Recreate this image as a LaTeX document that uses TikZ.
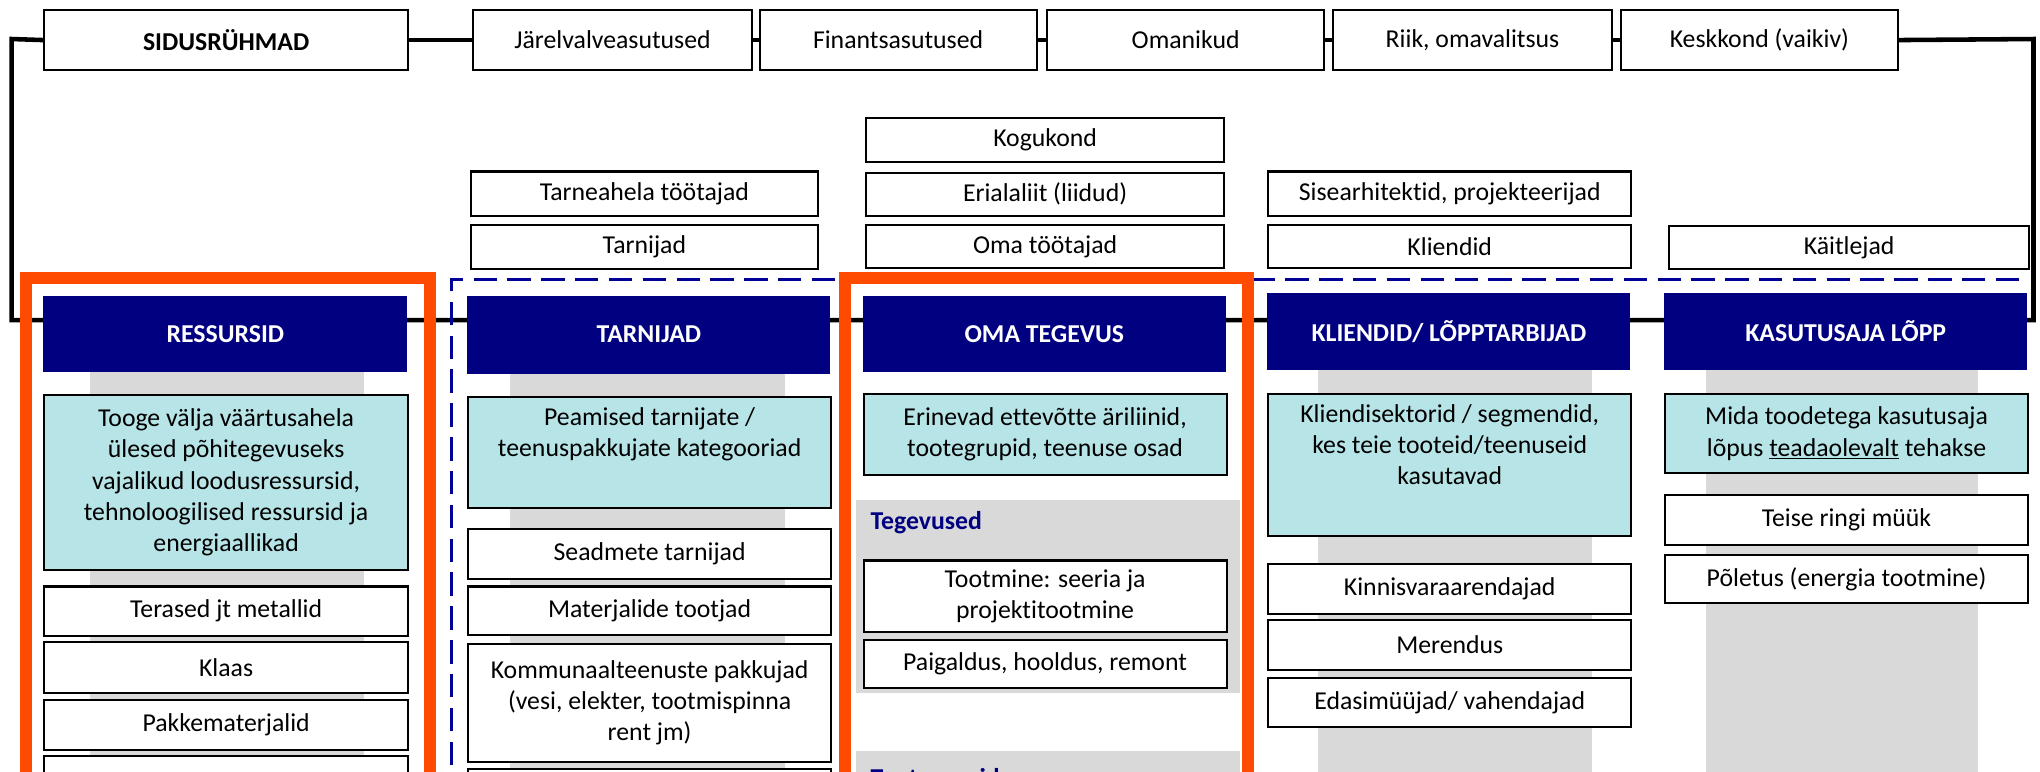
\documentclass[tikz,border=0pt]{standalone}
\usepackage{fontspec}
\setmainfont{Carlito}[Ligatures=NoCommon]
\definecolor{hdr}{RGB}{0,0,128}
\definecolor{cyanb}{RGB}{183,228,231}
\definecolor{greyb}{RGB}{217,217,217}
\definecolor{orng}{RGB}{255,75,0}
\definecolor{dnavy}{RGB}{0,0,150}
\newcommand{\fs}{\fontsize{19.8}{24}\selectfont}
\tikzset{
  base/.style={anchor=north west, inner sep=0pt, align=center, font=\fs},
  wbox/.style={base, draw=black, line width=1.6pt, fill=white},
  cbox/.style={base, draw=black, line width=1.6pt, fill=cyanb},
  hbox/.style={base, fill=hdr, text=white, font=\fs\bfseries},
  conn/.style={draw=black, line width=3.5pt},
  dashline/.style={draw=dnavy, line width=2.6pt, dash pattern=on 18pt off 8pt},
  orbox/.style={draw=orng, line width=9pt},
  lbl/.style={anchor=west, inner sep=0pt, font=\fs\bfseries, text=hdr},
}
\newcommand{\pb}[7]{\node[#1, minimum width={(#5-#3)*1pt}, minimum height={(#6-#4)*1pt}] (#2) at (#3,#4) {#7};}
\begin{document}
\begin{tikzpicture}[x=1pt,y=-1pt]
\useasboundingbox (0,0) rectangle (1568,593);
\clip (0,0) rectangle (1568,593);
\fill[white] (0,0) rectangle (1568,593);
% grey column bars
\fill[greyb] (69,286) rectangle (280,640);
\fill[greyb] (392,287) rectangle (603,640);
\fill[greyb] (1013,284) rectangle (1224,640);
\fill[greyb] (1311,284) rectangle (1520,640);
% OMA grey panels
\fill[greyb] (658,384) rectangle (953,533);
\fill[greyb] (658,577) rectangle (953,640);

% top row
\pb{wbox}{sid}{33}{7}{313}{53}{\bfseries SIDUSRÜHMAD}
\pb{wbox}{jar}{363}{7}{577}{53}{Järelvalveasutused}
\pb{wbox}{fin}{583}{7}{796}{53}{Finantsasutused}
\pb{wbox}{oman}{804}{7}{1017}{53}{Omanikud}
\pb{wbox}{riik}{1024}{7}{1238}{53}{Riik, omavalitsus}
\pb{wbox}{kesk}{1245}{7}{1458}{53}{Keskkond (vaikiv)}

% connectors
\coordinate (tl) at (9,30);
\coordinate (bl) at (9,246);
\coordinate (br) at (1563,246);
\coordinate (tr) at (1563,30);
\draw[conn] (sid.west) -- (tl) -- (bl) -- (br) -- (tr) -- (kesk.east);
\draw[conn] (sid.east) -- (jar.west);
\draw[conn] (jar.east) -- (fin.west);
\draw[conn] (fin.east) -- (oman.west);
\draw[conn] (oman.east) -- (riik.west);
\draw[conn] (riik.east) -- (kesk.west);

% dashed frame
\coordinate (dbot) at (347,640);
\coordinate (dtl) at (347,215);
\coordinate (dtr) at (1559,215);
\draw[dashline] (dbot) -- (dtl) -- (dtr);

% middle row
\pb{wbox}{tarneah}{361}{131}{628}{165}{Tarneahela töötajad}
\pb{wbox}{tarnijad}{361}{172}{628}{206}{Tarnijad}
\pb{wbox}{kogu}{665}{90}{940}{124}{Kogukond}
\pb{wbox}{eriala}{665}{132}{940}{165}{Erialaliit (liidud)}
\pb{wbox}{omatoo}{665}{172}{940}{205}{Oma töötajad}
\pb{wbox}{sise}{974}{131}{1253}{165}{Sisearhitektid, projekteerijad}
\pb{wbox}{klie}{974}{172}{1253}{205}{Kliendid}
\pb{wbox}{kait}{1282}{173}{1559}{206}{Käitlejad}

% headers
\pb{hbox}{hres}{33}{227}{313}{286}{RESSURSID}
\pb{hbox}{htar}{359}{227}{638}{287}{TARNIJAD}
\pb{hbox}{homa}{663}{227}{942}{286}{OMA TEGEVUS}
\pb{hbox}{hkli}{974}{225}{1253}{284}{KLIENDID/ LÕPPTARBIJAD}
\pb{hbox}{hkas}{1279}{225}{1558}{284}{KASUTUSAJA LÕPP}

% cyan boxes
\pb{cbox}{cres}{33}{303}{313}{437}{Tooge välja väärtusahela\\ülesed põhitegevuseks\\vajalikud loodusressursid,\\tehnoloogilised ressursid ja\\energiaallikad}
\pb{cbox}{ctar}{359}{304}{638}{390}{Peamised tarnijate /\\teenuspakkujate kategooriad\\\strut}
\pb{cbox}{coma}{663}{302}{942}{364}{Erinevad ettevõtte äriliinid,\\tootegrupid, teenuse osad}
\pb{cbox}{ckli}{974}{302}{1253}{411}{Kliendisektorid / segmendid,\\kes teie tooteid/teenuseid\\kasutavad\\\strut}
\pb{cbox}{ckas}{1279}{302}{1558}{363}{Mida toodetega kasutusaja\\lõpus \underline{teadaolevalt} tehakse}

% RESSURSID items
\pb{wbox}{ter}{33}{450}{313}{488}{Terased jt metallid}
\pb{wbox}{kla}{33}{493}{313}{532}{Klaas}
\pb{wbox}{pak}{33}{537}{313}{576}{Pakkematerjalid}
\pb{wbox}{resx}{33}{580}{313}{640}{}

% TARNIJAD items
\pb{wbox}{sea}{359}{406}{638}{444}{Seadmete tarnijad}
\pb{wbox}{mat}{359}{450}{638}{487}{Materjalide tootjad}
\pb{wbox}{kom}{359}{494}{638}{585}{Kommunaalteenuste pakkujad\\(vesi, elekter, tootmispinna\\rent jm)}
\pb{wbox}{tarx}{359}{590}{638}{640}{}

% OMA items
\node[lbl] (teg) at (669,402) {Tegevused};
\pb{wbox}{tootm}{663}{430}{942}{485}{Tootmine: seeria ja\\projektitootmine}
\pb{wbox}{paig}{663}{491}{942}{528}{Paigaldus, hooldus, remont}
\node[lbl] (tgr) at (669,599) {Tootegrupid};

% KLIENDID items
\pb{wbox}{kinn}{974}{433}{1253}{471}{Kinnisvaraarendajad}
\pb{wbox}{mere}{974}{476}{1253}{514}{Merendus}
\pb{wbox}{edas}{974}{520}{1253}{558}{Edasimüüjad/ vahendajad}

% KASUTUSAJA items
\pb{wbox}{teis}{1279}{380}{1558}{418}{Teise ringi müük}
\pb{wbox}{pole}{1279}{426}{1558}{463}{Põletus (energia tootmine)}

% orange frames
\draw[orbox] (20,213.5) rectangle (330.5,660);
\draw[orbox] (649.5,213.5) rectangle (959,660);
\end{tikzpicture}
\end{document}
